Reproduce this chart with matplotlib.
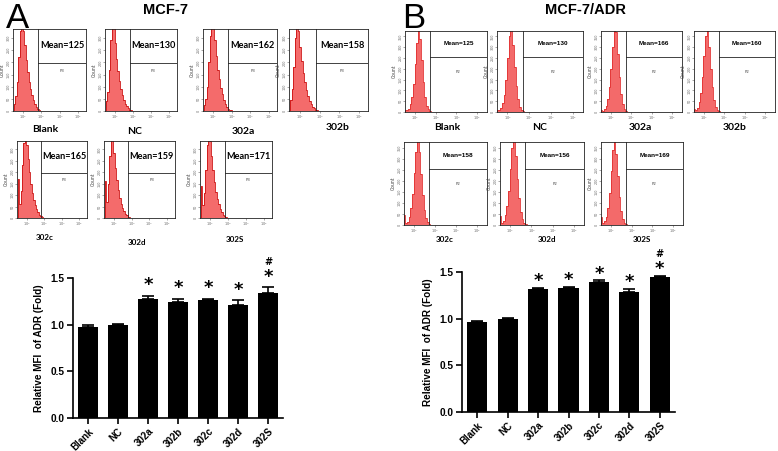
import numpy as np
import matplotlib.pyplot as plt

W, H = 778, 451

# ---- data ----
samples = ['Blank', 'NC', '302a', '302b', '302c', '302d', '302S']

mean_a = [125, 130, 162, 158, 165, 159, 171]
mean_b = [125, 130, 166, 160, 158, 156, 169]

mfi_a = [0.97, 1.00, 1.28, 1.24, 1.26, 1.21, 1.34]
err_a = [0.03, 0.005, 0.03, 0.04, 0.02, 0.05, 0.06]
mfi_b = [0.96, 1.00, 1.32, 1.33, 1.39, 1.29, 1.45]
err_b = [0.02, 0.005, 0.01, 0.01, 0.02, 0.03, 0.01]
star_a = ['', '', '*', '*', '*', '*', '*']
hash_a = ['', '', '', '', '', '', '#']
star_b = ['', '', '*', '*', '*', '*', '*']
hash_b = ['', '', '', '', '', '', '#']

# histogram counts, log10 bins from 10^1.5 to 10^3.1
hist_a = [
    [30, 60, 120, 220, 330, 360, 330, 270, 210, 160, 120, 90, 65, 45, 30, 18, 10, 5, 2, 1],
    [40, 80, 170, 290, 360, 340, 280, 215, 165, 125, 90, 65, 45, 30, 19, 11, 6, 3, 2, 1],
    [25, 50, 100, 200, 310, 360, 350, 290, 225, 170, 130, 95, 68, 46, 30, 18, 10, 5, 3, 1],
    [45, 90, 180, 300, 360, 330, 265, 205, 155, 118, 85, 62, 43, 29, 18, 11, 6, 3, 2, 1],
    [170, 60, 120, 230, 330, 360, 320, 260, 200, 150, 110, 80, 56, 38, 25, 15, 8, 4, 2, 1],
    [160, 70, 150, 270, 360, 345, 285, 220, 165, 122, 88, 62, 43, 29, 18, 11, 6, 3, 2, 1],
    [140, 55, 110, 210, 320, 360, 335, 270, 210, 158, 115, 84, 60, 40, 26, 15, 9, 4, 2, 1],
]
hist_b = [
    [10, 8, 15, 35, 70, 130, 220, 320, 400, 340, 240, 140, 70, 30, 12, 5, 2, 1, 0, 0],
    [10, 8, 18, 40, 80, 150, 250, 350, 400, 310, 210, 120, 60, 25, 10, 4, 2, 1, 0, 0],
    [8, 6, 12, 30, 60, 115, 200, 300, 390, 370, 270, 160, 85, 38, 15, 6, 2, 1, 0, 0],
    [12, 10, 20, 45, 90, 160, 260, 350, 400, 300, 200, 115, 55, 24, 10, 4, 2, 1, 0, 0],
    [45, 8, 15, 35, 75, 140, 235, 330, 400, 330, 230, 135, 68, 30, 12, 5, 2, 1, 0, 0],
    [40, 10, 20, 45, 85, 155, 255, 350, 400, 310, 210, 120, 60, 26, 10, 4, 2, 1, 0, 0],
    [35, 8, 16, 38, 78, 145, 245, 340, 400, 320, 220, 128, 64, 28, 11, 5, 2, 1, 0, 0],
]
bin_edges = 10 ** np.linspace(1.5, 3.1, 21)

fig = plt.figure(figsize=(W / 100, H / 100), dpi=100)


def px_axes(x0, y0, x1, y1):
    return fig.add_axes([x0 / W, 1 - y1 / H, (x1 - x0) / W, (y1 - y0) / H])


def px_text(x, y, s, **kw):
    fig.text(x / W, 1 - y / H, s, ha='center', va='center', **kw)


def draw_hist(rect, counts, mean, st):
    ax = px_axes(*rect)
    ax.stairs(counts, bin_edges, fill=True, color=st['fill'], lw=0)
    ax.stairs(counts, bin_edges, color=st['edge'], lw=0.6)
    ax.set_xscale('log')
    ax.set_xlim(st['xlim'])
    ax.set_ylim(0, st['ymax'])
    ax.set_xticks([1e2, 1e3, 1e4, 1e5])
    ax.set_xticklabels(['10$^2$', '10$^3$', '10$^4$', '10$^5$'], fontsize=2.4)
    ax.minorticks_off()
    ax.set_yticks(st['yticks'])
    ax.set_yticklabels([str(t) for t in st['yticks']], fontsize=2.4, rotation=90, va='center')
    ax.tick_params(length=1.2, width=0.4, pad=0.6, colors='#666666')
    ax.set_ylabel('Count', fontsize=3.3, labelpad=1, color='#444444')
    for s in ax.spines.values():
        s.set_linewidth(0.6)
        s.set_color('#222222')
    g = st['gate']
    ax.axvline(g, color='#222222', lw=0.6)
    ax.plot([g, st['xlim'][1]], [st['hline'] * st['ymax']] * 2, color='#222222', lw=0.6)
    xm = 10 ** ((np.log10(g) + np.log10(st['xlim'][1])) / 2)
    ax.text(xm, (1 + st['hline']) / 2 * st['ymax'], f'Mean={mean}', ha='center', va='center',
            fontsize=st['mfs'], fontweight='bold', family=st['mfam'])
    ax.text(xm, 0.49 * st['ymax'], st['gate_name'], ha='center', va='center', fontsize=2.8,
            color='#444444')


style_a = dict(fill='#f46b6b', edge='#cc1010', xlim=(10 ** 1.45, 10 ** 5.45), ymax=337,
               yticks=[0, 50, 100, 150, 200, 250, 300], gate=10 ** 2.82, hline=0.59,
               mfs=6.6, mfam='Lato', gate_name='P3')
style_b = dict(fill='#f36a6a', edge='#e23030', xlim=(10 ** 1.52, 10 ** 5.48), ymax=375,
               yticks=[0, 50, 100, 150, 200, 250, 300, 350], gate=10 ** 2.72, hline=0.68,
               mfs=4.6, mfam='Liberation Sans', gate_name='P2')

rects_a = [(13, 29, 86, 111), (105, 29, 177, 111), (203, 29, 277, 111), (289, 29, 368, 111),
           (17, 141, 87, 218), (104, 141, 175, 218), (200, 141, 272, 218)]
rects_b = [(405, 31, 487, 112), (497, 31, 583, 112), (601, 31, 682, 112), (694, 31, 775, 112),
           (404, 142, 487, 225), (500, 142, 584, 225), (601, 142, 683, 225)]
lab_a = [(45, 129), (135, 132), (243, 131), (338, 128), (45, 237), (137, 242), (235, 239)]
lab_b = [(447, 128), (540, 127), (640, 128), (735, 128), (445, 239), (547, 240), (642, 240)]

for i, s in enumerate(samples):
    draw_hist(rects_a[i], hist_a[i], mean_a[i], style_a)
    draw_hist(rects_b[i], hist_b[i], mean_b[i], style_b)
    px_text(*lab_a[i], s, fontsize=7.5 if i < 4 else 5.8, fontweight='bold', family='Lato')
    px_text(*lab_b[i], s, fontsize=7.5 if i < 4 else 5.8, fontweight='bold', family='Lato')

px_text(17, 18, 'A', fontsize=25, family='Liberation Sans')
px_text(414, 18, 'B', fontsize=25, family='Liberation Sans')
px_text(165, 10, 'MCF-7', fontsize=10.5, fontweight='bold', family='Liberation Sans')
px_text(585, 10, 'MCF-7/ADR', fontsize=10.5, fontweight='bold', family='Liberation Sans')


def draw_bars(rect, vals, errs, stars, hashes, off):
    ax = px_axes(*rect)
    x = np.arange(len(samples))
    ax.bar(x, vals, width=0.66, color='black')
    ax.errorbar(x, vals, yerr=[np.zeros(len(vals)), errs], fmt='none', ecolor='black',
                capsize=4, elinewidth=1.2, capthick=1.2)
    ax.set_xlim(-0.5, 6.5)
    ax.set_ylim(0, 1.5)
    ax.set_yticks([0, 0.5, 1.0, 1.5])
    ax.set_yticklabels(['0.0', '0.5', '1.0', '1.5'], fontsize=7.3, fontweight='bold',
                       family='Liberation Sans')
    ax.set_xticks(x)
    ax.set_xticklabels(samples, rotation=45, ha='right', rotation_mode='anchor', fontsize=7,
                       fontweight='bold', family='Liberation Sans')
    ax.tick_params(width=1.2, length=4, pad=2)
    for sp in ['top', 'right']:
        ax.spines[sp].set_visible(False)
    for sp in ['left', 'bottom']:
        ax.spines[sp].set_linewidth(1.2)
    ax.set_ylabel('Relative MFI  of ADR (Fold)', fontsize=7.2, fontweight='bold',
                  family='Liberation Sans', labelpad=5)
    for i in range(len(vals)):
        top = vals[i] + errs[i]
        if stars[i]:
            ax.text(i, top + off, stars[i], ha='center', va='center', fontsize=13,
                    fontweight='bold', clip_on=False)
        if hashes[i]:
            ax.text(i, top + off + 0.16, hashes[i], ha='center', va='center', fontsize=7,
                    fontweight='bold', clip_on=False)


draw_bars((73, 278, 283, 418), mfi_a, err_a, star_a, hash_a, 0.11)
draw_bars((462, 272, 675, 412), mfi_b, err_b, star_b, hash_b, 0.07)

fig.savefig('out.png', dpi=100)
